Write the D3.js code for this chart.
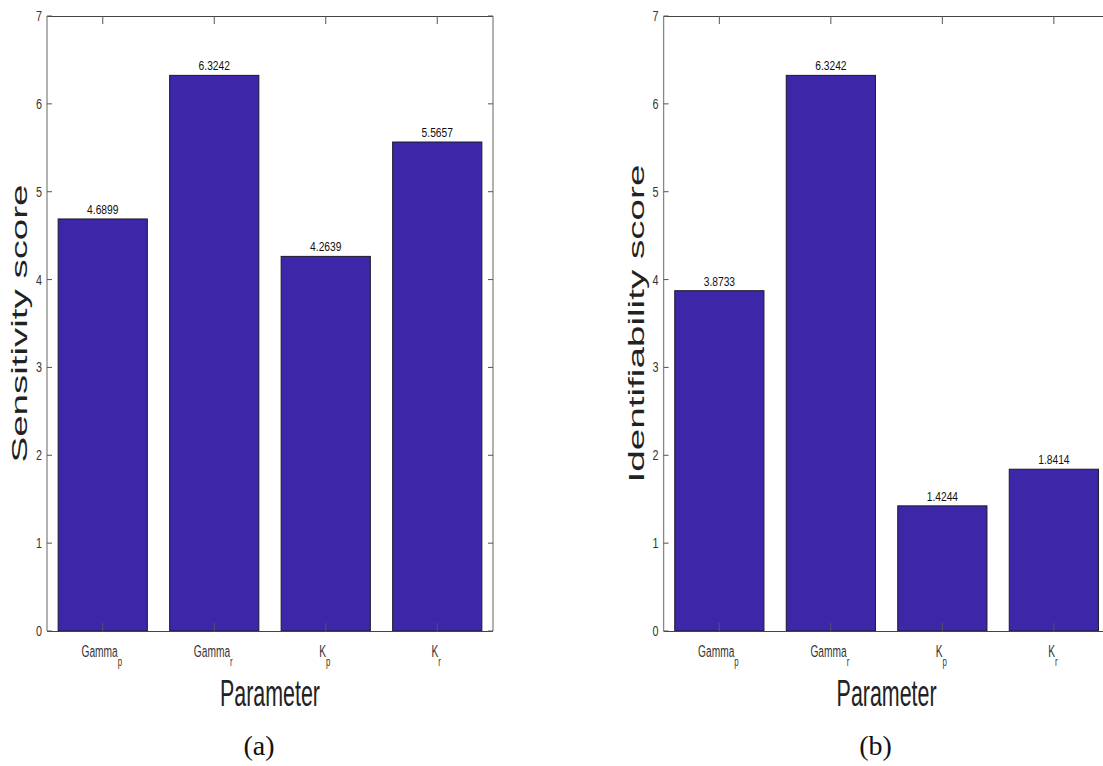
<!DOCTYPE html>
<html><head><meta charset="utf-8">
<script src="https://d3js.org/d3.v7.min.js"></script>
<style>
html,body{margin:0;padding:0;background:#fff;}
svg{display:block;}
</style></head>
<body>
<svg id="chart" width="1103" height="766"></svg>
<script>
const categoryBase = ["Gamma", "Gamma", "K", "K"];
const categorySub = ["p", "r", "p", "r"];
const sensitivity = [4.6899, 6.3242, 4.2639, 5.5657];
const identifiability = [3.8733, 6.3242, 1.4244, 1.8414];
const yTicks = [0, 1, 2, 3, 4, 5, 6, 7];
const panelTitles = ["Sensitivity score", "Identifiability score"];
const captions = ["(a)", "(b)"];

const svg = d3.select("#chart");
const sans = "'Liberation Sans',Arial,sans-serif";
const barColor = "#3E26A8";

// condensed text: horizontal squeeze via transform
function narrowText(g, x, y, anchor, size, sx, color) {
  return g.append("g").attr("transform", `translate(${x},${y}) scale(${sx},1)`)
    .append("text").attr("x", 0).attr("y", 0)
    .attr("text-anchor", anchor).attr("font-family", sans)
    .attr("font-size", size).attr("fill", color);
}

function panel(left, values, ytitle, caption, titleLen) {
  const top = 16, bottom = 631, width = 446;
  const x = d3.scaleLinear().domain([0.5, 4.5]).range([left, left + width]);
  const y = d3.scaleLinear().domain([0, 7]).range([bottom, top]);
  const g = svg.append("g");
  const idx = values.map((v, i) => i);
  const bw = x(0.8) - x(0);

  // bars
  g.selectAll("rect.bar").data(idx).join("rect")
    .attr("x", i => x(i + 1) - bw / 2)
    .attr("y", i => y(values[i]))
    .attr("width", bw)
    .attr("height", i => y(0) - y(values[i]))
    .attr("fill", barColor)
    .attr("stroke", "#1a1a2a")
    .attr("stroke-width", 1);

  // value labels
  idx.forEach(i => {
    narrowText(g, x(i + 1), y(values[i]) - 5, "middle", 13.5, 0.76, "#111")
      .text(values[i].toFixed(4));
  });

  // axes lines (box)
  g.append("line").attr("x1", x(0.5)).attr("x2", x(4.5)).attr("y1", top + 0.5).attr("y2", top + 0.5).attr("stroke", "#444").attr("stroke-width", 1.2);
  g.append("line").attr("x1", x(0.5)).attr("x2", x(4.5)).attr("y1", bottom + 0.5).attr("y2", bottom + 0.5).attr("stroke", "#444").attr("stroke-width", 1.2);
  g.append("line").attr("x1", x(0.5)).attr("x2", x(0.5)).attr("y1", top).attr("y2", bottom).attr("stroke", "#888").attr("stroke-width", 1.3);
  g.append("line").attr("x1", x(4.5)).attr("x2", x(4.5)).attr("y1", top).attr("y2", bottom).attr("stroke", "#888").attr("stroke-width", 1.3);

  // x ticks (inside, top & bottom)
  idx.forEach(i => {
    g.append("line").attr("x1", x(i + 1)).attr("x2", x(i + 1)).attr("y1", bottom).attr("y2", bottom - 8).attr("stroke", "#555");
    g.append("line").attr("x1", x(i + 1)).attr("x2", x(i + 1)).attr("y1", top).attr("y2", top + 8).attr("stroke", "#555");
  });
  // y ticks (inside, left & right)
  yTicks.forEach(t => {
    g.append("line").attr("x1", x(0.5)).attr("x2", x(0.5) + 5).attr("y1", y(t)).attr("y2", y(t)).attr("stroke", "#555");
    g.append("line").attr("x1", x(4.5)).attr("x2", x(4.5) - 5).attr("y1", y(t)).attr("y2", y(t)).attr("stroke", "#555");
    narrowText(g, x(0.5) - 5, y(t) + 5, "end", 15, 0.72, "#333").text(t);
  });

  // x tick labels with subscripts
  idx.forEach(i => {
    const t = narrowText(g, x(i + 1) - 1, 657, "middle", 17, 0.6, "#333");
    t.append("tspan").text(categoryBase[i]);
    t.append("tspan").attr("dy", 9).attr("font-size", 13).text(categorySub[i]);
  });

  // x title
  g.append("text").attr("x", x(2.5)).attr("y", 706)
    .attr("text-anchor", "middle").attr("font-family", sans).attr("font-size", 36)
    .attr("textLength", 100).attr("lengthAdjust", "spacingAndGlyphs")
    .attr("fill", "#222").text("Parameter");

  // y title
  g.append("text").attr("transform", `translate(${left - 20},${(top + bottom) / 2}) rotate(-90)`)
    .attr("text-anchor", "middle").attr("font-family", sans).attr("font-size", 22)
    .attr("textLength", titleLen).attr("lengthAdjust", "spacingAndGlyphs")
    .attr("fill", "#222").text(ytitle);

  // caption
  g.append("text").attr("x", x(2.5) - 11).attr("y", 755)
    .attr("text-anchor", "middle").attr("font-family", "'Liberation Serif','DejaVu Serif',serif").attr("font-size", 28)
    .attr("fill", "#111").text(caption);
}

panel(47, sensitivity, panelTitles[0], captions[0], 278);
panel(663.6, identifiability, panelTitles[1], captions[1], 318);
</script>
</body></html>
